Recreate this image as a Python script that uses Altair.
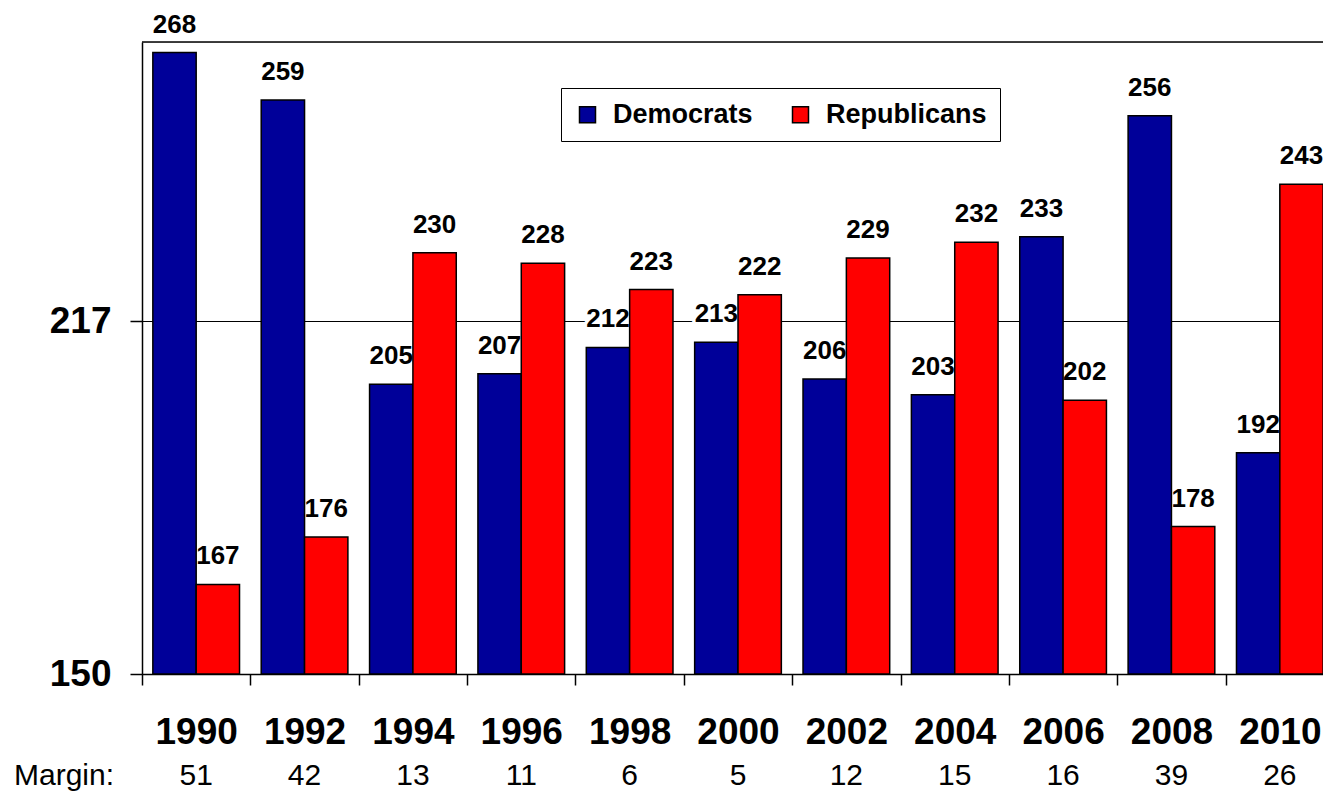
import altair as alt
import pandas as pd

years = ["1990", "1992", "1994", "1996", "1998", "2000", "2002", "2004", "2006", "2008", "2010"]
democrats = [268, 259, 205, 207, 212, 213, 206, 203, 233, 256, 192]
republicans = [167, 176, 230, 228, 223, 222, 229, 232, 202, 178, 243]
margins = [51, 42, 13, 11, 6, 5, 12, 15, 16, 39, 26]
parties = ["Democrats", "Republicans"]
colors = ["#000099", "#FF0000"]
y_ticks = [150, 217]
y_base = 150

rows = []
for i, y in enumerate(years):
    rows.append({"year": y, "party": parties[0], "seats": democrats[i]})
    rows.append({"year": y, "party": parties[1], "seats": republicans[i]})
df = pd.DataFrame(rows)
mdf = pd.DataFrame({"year": years, "margin": [str(m) for m in margins]})

FONT = "Liberation Sans"
PLOT_W = 1181
PLOT_H = 632
FULL_W = 1192  # plot extends beyond visible area (clipped like reference)

x_enc = alt.X(
    "year:N",
    sort=years,
    scale=alt.Scale(domain=years, range=[0, FULL_W], paddingInner=0, paddingOuter=0),
    axis=alt.Axis(
        title=None, labelAngle=0, labelFont=FONT, labelFontSize=37, labelFontWeight="bold",
        labelColor="black", labelPadding=29, domainColor="black", domainWidth=1.5,
        tickColor="black", tickSize=11, tickWidth=1.5, tickBand="extent", grid=False,
        labelOverlap=False, labelBound=False,
    ),
)
y_scale = alt.Scale(domain=[150, 270], nice=False, zero=False)
y_enc = alt.Y(
    "seats:Q",
    scale=y_scale,
    axis=alt.Axis(
        title=None, values=y_ticks, labelFont=FONT, labelFontSize=37, labelFontWeight="bold",
        labelColor="black", labelPadding=19, domainColor="black", domainWidth=1.5,
        tickColor="black", tickSize=12, tickWidth=1.5, grid=True, gridColor="black", gridWidth=1,
    ),
)
xoff = alt.XOffset(
    "party:N", sort=parties,
    scale=alt.Scale(domain=parties, paddingInner=0, paddingOuter=0.25),
)

base = alt.Chart(df)

halo = base.mark_text(
    font=FONT, fontSize=26, fontWeight="bold", color="white", stroke="white",
    strokeWidth=7, baseline="alphabetic", dy=-20,
).encode(
    x=x_enc,
    xOffset=xoff,
    y=y_enc,
    text="seats:Q",
)

bars = base.mark_bar(stroke="black", strokeWidth=1.5).encode(
    x=alt.X("year:N", sort=years),
    y=alt.Y("seats:Q"),
    y2=alt.datum(y_base),
    xOffset=alt.XOffset("party:N", sort=parties),
    color=alt.Color(
        "party:N",
        scale=alt.Scale(domain=parties, range=colors),
        legend=alt.Legend(
            title=None, orient="none", legendX=419, legendY=46, direction="horizontal",
            labelFont=FONT, labelFontSize=27, labelFontWeight="bold", labelColor="black",
            labelLimit=400,
            symbolType="square", symbolSize=256, symbolStrokeColor="black", symbolStrokeWidth=1.5,
            symbolOpacity=1, labelOffset=12, columnPadding=34, padding=13,
            strokeColor="black", fillColor="white",
        ),
    ),
)

labels = base.mark_text(
    font=FONT, fontSize=26, fontWeight="bold", color="black", baseline="alphabetic", dy=-20,
).encode(
    x=alt.X("year:N", sort=years),
    xOffset=alt.XOffset("party:N", sort=parties),
    y=alt.Y("seats:Q"),
    text="seats:Q",
)

top_border = alt.Chart(pd.DataFrame({"a": [0]})).mark_rule(color="black", strokeWidth=1.5).encode(
    x=alt.value(0), x2=alt.value(FULL_W + 20), y=alt.value(0)
)

margin_vals = alt.Chart(mdf).mark_text(
    font=FONT, fontSize=30, color="black", baseline="alphabetic",
).encode(
    x=alt.X("year:N", sort=years),
    y=alt.value(743),
    text="margin:N",
)

margin_lbl = alt.Chart(pd.DataFrame({"t": ["Margin:"]})).mark_text(
    font=FONT, fontSize=30, color="black", baseline="alphabetic", align="left",
).encode(
    x=alt.value(-128),
    y=alt.value(743),
    text="t:N",
)

chart = alt.layer(halo, bars, labels, top_border, margin_vals, margin_lbl).properties(
    width=PLOT_W,
    height=PLOT_H,
    autosize=alt.AutoSizeParams(type="none"),
    padding={"left": 134, "top": 34, "right": 0, "bottom": 118},
).configure_view(stroke=None).configure(background="white")

chart.save("out.html", embed_options={"renderer": "svg", "actions": False})
